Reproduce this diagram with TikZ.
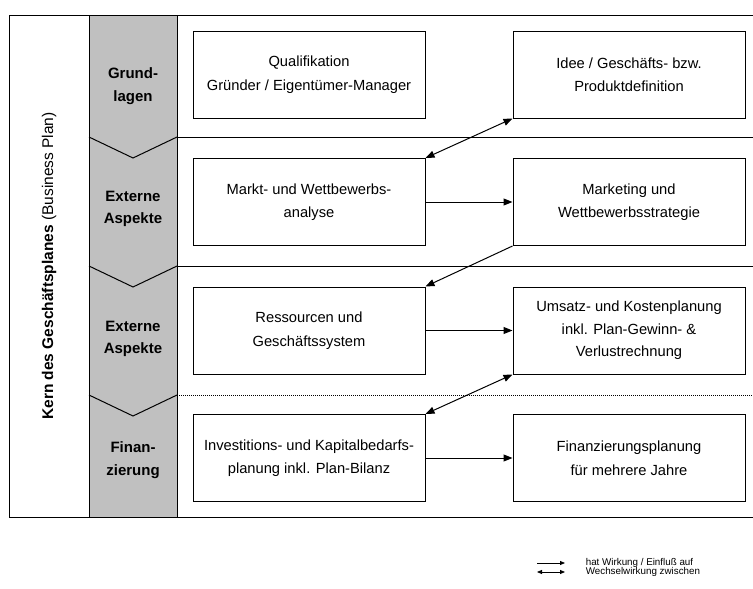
\documentclass[tikz,border=0pt]{standalone}
\usepackage{fontspec}
\setmainfont{Liberation Sans}
\usetikzlibrary{arrows.meta}
\definecolor{phasegrey}{RGB}{192,192,192}

\begin{document}
\begin{tikzpicture}[x=1pt, y=-1pt, line width=1pt,
  box/.style={shape=rectangle, draw=black, line width=1pt, minimum width=232pt, minimum height=87pt, inner sep=0pt, align=center, font=\fontsize{14.7}{23.5}\selectfont},
  phase/.style={align=center, font=\bfseries\fontsize{15}{22.5}\selectfont},
  tip/.style={-{Triangle[length=9pt,width=7pt]}},
  tips/.style={{Triangle[length=9pt,width=7pt]}-{Triangle[length=9pt,width=7pt]}},
  legtip/.style={-{Triangle[length=5pt,width=4pt]}},
  legtips/.style={{Triangle[length=5pt,width=4pt]}-{Triangle[length=5pt,width=4pt]}}]
\useasboundingbox (0,0) rectangle (753,589);
\fill[phasegrey] (89,15) rectangle (177,517);
\draw (753,15) -- (9,15) -- (9,517) -- (753,517);
\draw (89,15) -- (89,517);
\draw (177,15) -- (177,517);
\draw (177,137) -- (753,137);
\draw (177,266) -- (753,266);
\draw[line width=0.7pt, dash pattern=on 1pt off 1pt] (177,395) -- (753,395);
\draw (89,137) -- (133,158) -- (177,137);
\draw (89,266) -- (133,287) -- (177,266);
\draw (89,395) -- (133,416) -- (177,395);
\node[rotate=90, font=\fontsize{15.5}{18}\selectfont] (kern) at (49,266) {\textbf{Kern des Geschäftsplanes} (Business Plan)};
\node[phase] (grund) at (133,86) {Grund-\\lagen};
\node[phase] (extern1) at (133,209) {Externe\\Aspekte};
\node[phase] (extern2) at (133,339) {Externe\\Aspekte};
\node[phase] (finan) at (133,460) {Finan-\\zierung};
\node[box] (quali) at (309,74.5) {Qualifikation\\Gründer / Eigentümer-Manager};
\node[box] (idee) at (629,74.5) {Idee / Geschäfts- bzw.\\Produktdefinition};
\node[box] (markt) at (309,202) {Markt- und Wettbewerbs-\\analyse};
\node[box] (marketing) at (629,202) {Marketing und\\Wettbewerbsstrategie};
\node[box] (ressourcen) at (309,330.5) {Ressourcen und\\Geschäftssystem};
\node[box, font=\fontsize{14.7}{22.5}\selectfont] (umsatz) at (629,330.5) {Umsatz- und Kostenplanung\\inkl. Plan-Gewinn- \&\\Verlustrechnung};
\node[box] (invest) at (309,458) {Investitions- und Kapitalbedarfs-\\planung inkl. Plan-Bilanz};
\node[box] (finanz) at (629,458) {Finanzierungsplanung\\für mehrere Jahre};
\path [tips] (idee.south west) edge (markt.north east);
\path [tip] (markt.east) edge (marketing.west);
\path [tip] (marketing.south west) edge (ressourcen.north east);
\path [tip] (ressourcen.east) edge (umsatz.west);
\path [tips] (umsatz.south west) edge (invest.north east);
\path [tip] (invest.east) edge (finanz.west);
\coordinate (w1) at (537,563);
\coordinate (w2) at (565,563);
\coordinate (v1) at (537,572);
\coordinate (v2) at (565,572);
\node[anchor=west, font=\fontsize{9.8}{11}\selectfont] (wirkung) at (582,563) {hat Wirkung / Einfluß auf};
\node[anchor=west, font=\fontsize{9.8}{11}\selectfont] (wechsel) at (582,572) {Wechselwirkung zwischen};
\path [legtip, line width=0.8pt] (w1) edge (w2);
\path [legtips, line width=0.8pt] (v1) edge (v2);
\end{tikzpicture}
\end{document}
